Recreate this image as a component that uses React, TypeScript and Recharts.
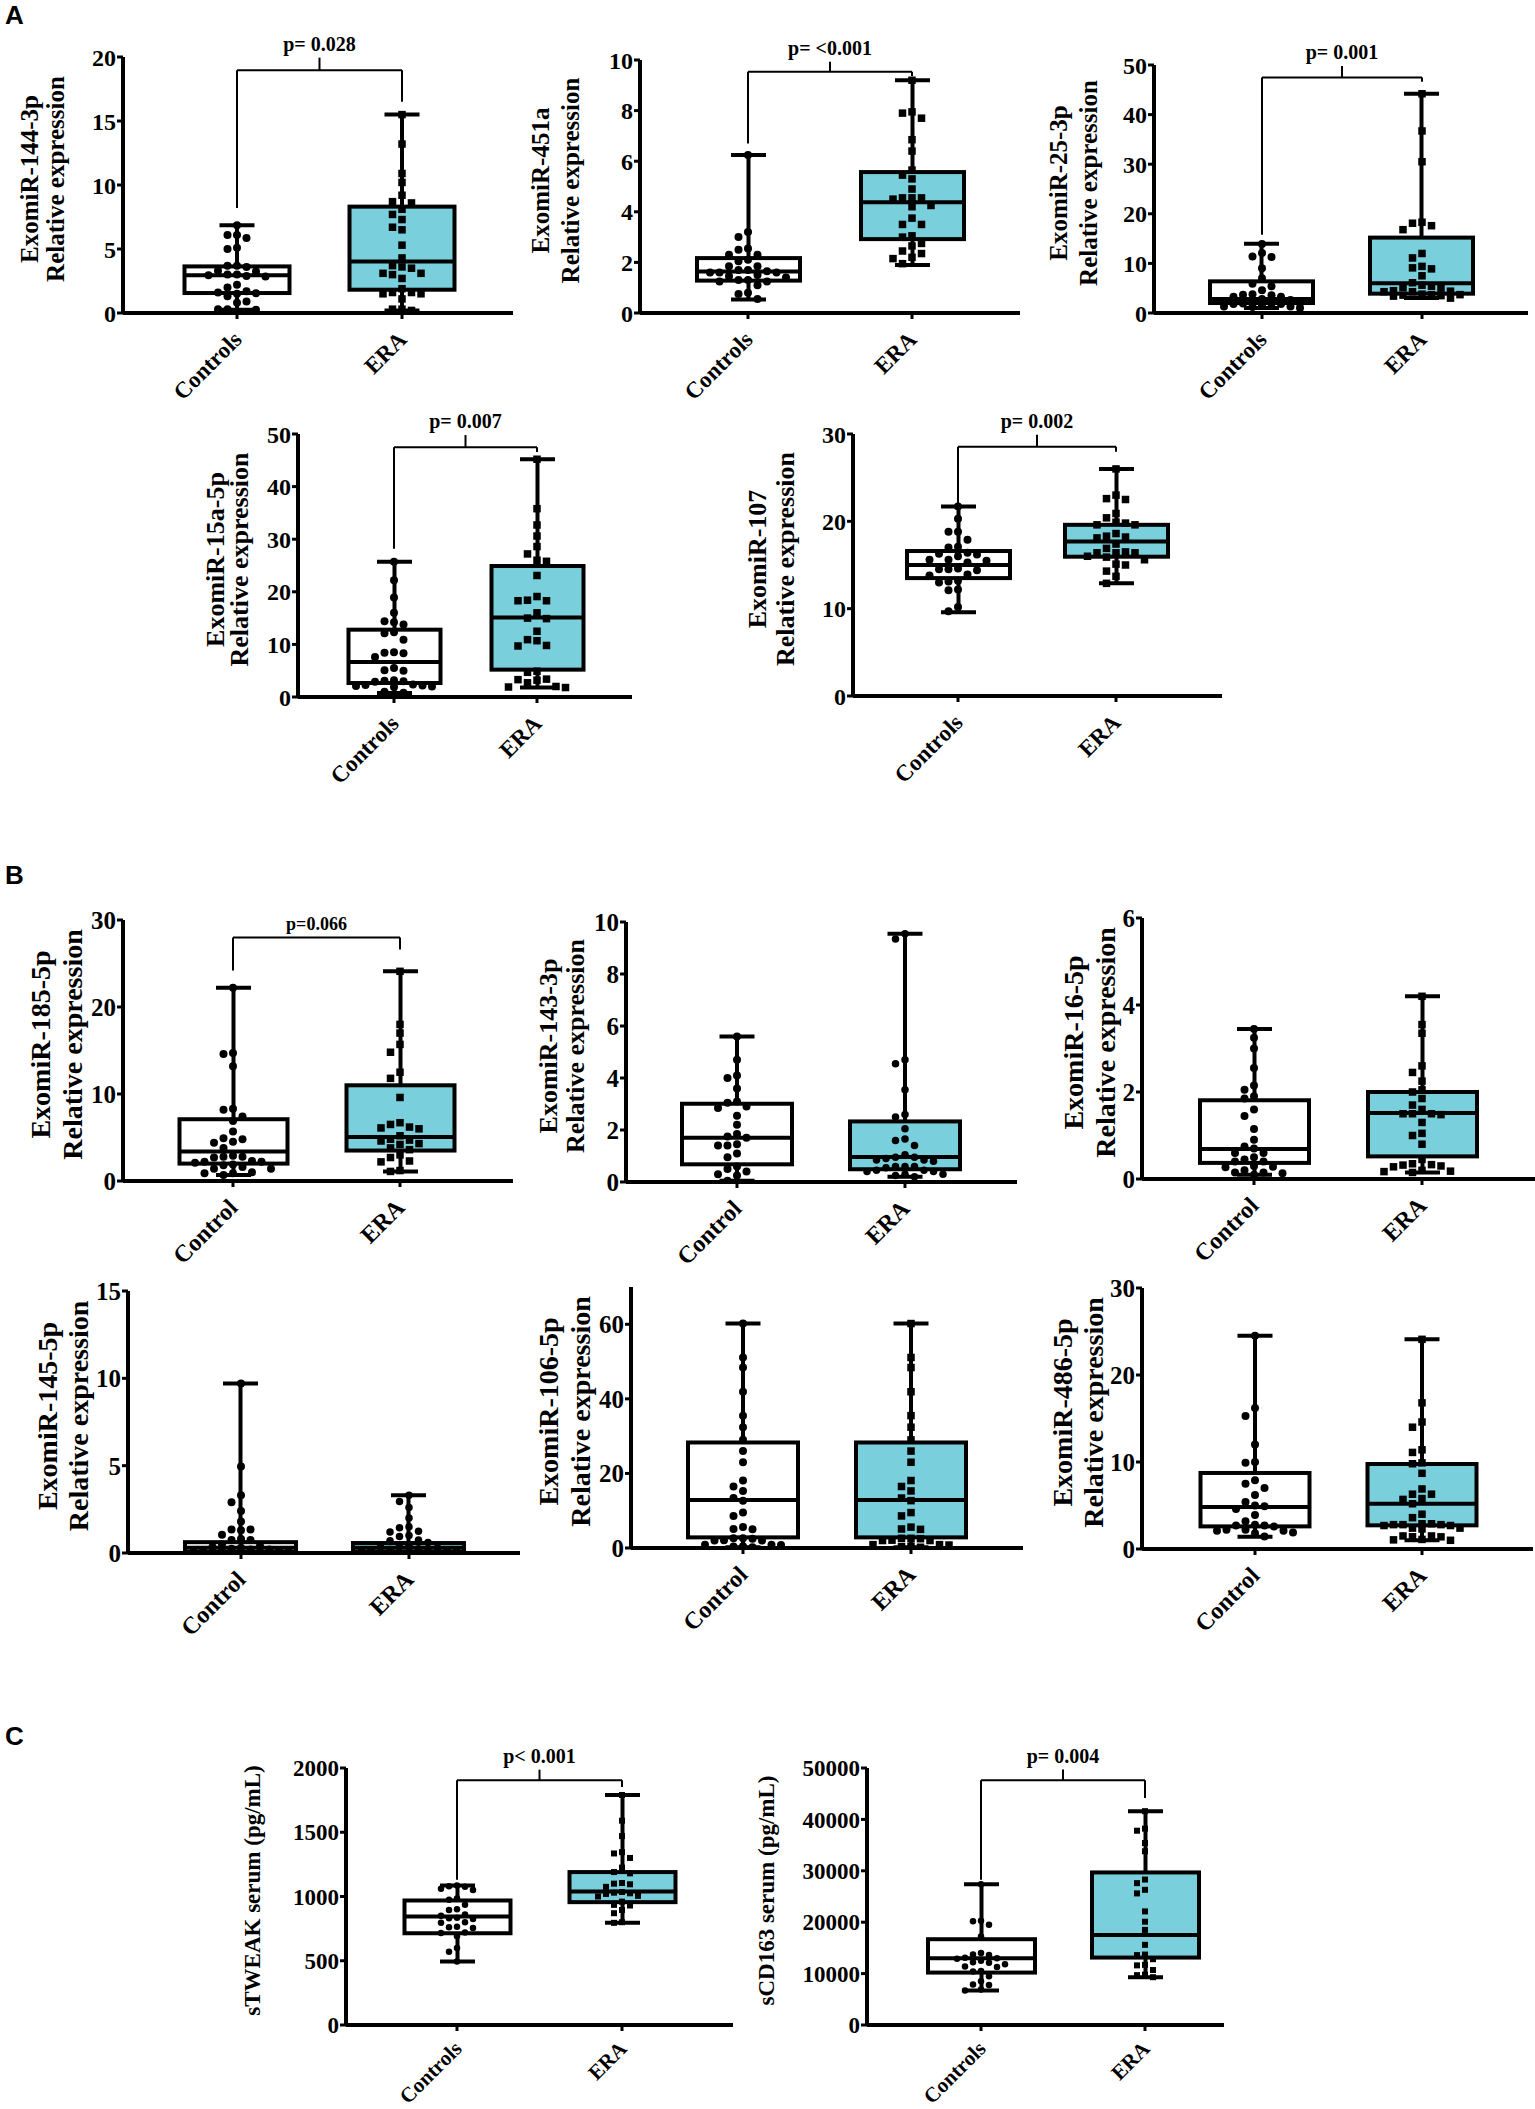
import React from 'react';
import { ComposedChart, Bar, Scatter, XAxis, YAxis, ReferenceLine } from 'recharts';

const SERIF = '"Liberation Serif", "Times New Roman", Times, serif';
const SANS = '"Liberation Sans", Arial, sans-serif';
const TEAL = '#79cfdb';

const groupsA = ['Controls', 'ERA'];
const groupsB = ['Control', 'ERA'];

// box stats per group: [min, q1, median, q3, max]
// brackets: [left leg bottom, right leg bottom, bar level, centre tick top]

// ---- A: ExomiR-144-3p
const mir144Controls = [6.85, 6.1, 6.1, 5.85, 5.1, 5.0, 3.7, 3.7, 3.6, 3.3, 3.25, 3.0, 3.0, 2.95, 2.9, 2.85, 2.2, 2.0, 1.7, 1.6, 1.55, 1.5, 1.3, 0.9, 0.8, 0.3, 0.3, 0.25];
const mir144Era = [15.5, 13.2, 10.9, 10.2, 9.2, 8.7, 8.6, 8.1, 7.7, 7.3, 6.7, 6.5, 5.3, 4.3, 3.7, 3.6, 3.5, 3.1, 3.1, 3.0, 2.7, 1.9, 1.6, 1.6, 1.5, 1.5, 1.1, 0.3, 0.3, 0.2];
const mir144Boxes = [[0.25, 1.56, 2.94, 3.64, 6.85], [0.2, 1.82, 4.03, 8.31, 15.5]];
const mir144Ticks = [0, 5, 10, 15, 20];
const mir144Bracket = [8.2, 16.5, 18.96, 19.95];

// ---- A: ExomiR-451a
const mir451Controls = [6.25, 3.2, 3.0, 2.55, 2.5, 2.3, 2.3, 2.1, 2.05, 1.85, 1.85, 1.7, 1.7, 1.65, 1.6, 1.6, 1.6, 1.5, 1.45, 1.4, 1.3, 1.3, 1.25, 1.25, 1.1, 0.8, 0.75, 0.55];
const mir451Era = [9.2, 7.95, 7.9, 7.7, 6.85, 6.4, 5.65, 5.45, 5.3, 4.9, 4.55, 4.55, 4.55, 4.5, 4.25, 4.2, 3.75, 3.5, 3.5, 3.05, 3.0, 2.75, 2.65, 2.45, 2.35, 2.2, 2.15, 1.95];
const mir451Boxes = [[0.53, 1.28, 1.64, 2.17, 6.25], [1.9, 2.92, 4.38, 5.57, 9.2]];
const mir451Ticks = [0, 2, 4, 6, 8, 10];
const mir451Bracket = [6.7, 9.37, 9.54, 9.93];

// ---- A: ExomiR-25-3p
const mir25Controls = [13.9, 12.1, 11.4, 11.3, 9.0, 7.0, 5.9, 5.4, 4.6, 3.8, 3.7, 3.6, 3.3, 3.3, 2.8, 2.6, 2.2, 2.0, 2.0, 1.9, 1.9, 1.8, 1.8, 1.4, 1.3, 1.3, 1.2, 1.0];
const mir25Era = [44.2, 36.7, 30.5, 18.3, 18.1, 17.6, 16.8, 12.0, 11.1, 9.4, 9.1, 8.9, 7.5, 6.1, 5.6, 5.4, 5.2, 5.0, 4.5, 4.4, 4.3, 4.3, 3.8, 3.7, 3.7, 3.6, 3.5, 3.4, 3.0];
const mir25Boxes = [[1.0, 2.01, 2.8, 6.38, 13.96], [3.0, 3.9, 6.0, 15.2, 44.2]];
const mir25Ticks = [0, 10, 20, 30, 40, 50];
const mir25Bracket = [15.8, 46.6, 47.5, 49.8];

// ---- A: ExomiR-15a-5p
const mir15Controls = [25.7, 22.2, 18.9, 16.0, 14.4, 14.2, 13.8, 12.3, 12.1, 10.9, 8.5, 8.4, 8.3, 7.6, 5.5, 5.1, 5.0, 3.2, 3.1, 3.0, 2.9, 2.4, 2.3, 2.2, 2.1, 2.0, 1.9, 1.0, 0.8];
const mir15Era = [45.2, 35.8, 32.7, 30.6, 28.6, 27.2, 26.0, 25.8, 23.1, 19.1, 18.4, 18.3, 18.3, 16.0, 15.0, 14.9, 12.5, 10.9, 10.7, 9.8, 9.7, 4.9, 4.7, 3.4, 3.3, 3.2, 2.7, 2.0, 1.9, 1.8];
const mir15Boxes = [[0.76, 2.66, 6.66, 12.8, 25.7], [1.8, 5.2, 15.1, 24.9, 45.2]];
const mir15Ticks = [0, 10, 20, 30, 40, 50];
const mir15Bracket = [28.2, 46.6, 47.5, 49.8];

// ---- A: ExomiR-107
const mir107Controls = [21.7, 20.3, 18.8, 18.8, 17.9, 17.1, 17.0, 16.4, 16.3, 16.2, 16.0, 15.6, 15.6, 15.5, 15.3, 14.6, 14.5, 14.5, 14.4, 13.9, 13.8, 13.2, 13.1, 13.0, 12.2, 12.1, 10.2, 9.7];
const mir107Era = [26.0, 23.0, 22.6, 22.5, 20.9, 20.4, 19.9, 19.8, 19.6, 19.6, 18.6, 18.3, 18.2, 18.1, 17.4, 16.9, 16.5, 16.4, 16.4, 16.4, 16.0, 15.9, 15.6, 15.1, 15.0, 14.3, 13.7, 12.9];
const mir107Boxes = [[9.6, 13.5, 15.0, 16.6, 21.7], [12.9, 15.95, 17.7, 19.6, 26.0]];
const mir107Ticks = [0, 10, 20, 30];
const mir107Bracket = [21.9, 27.98, 28.55, 29.9];

// ---- B: ExomiR-185-5p
const mir185Control = [22.2, 14.7, 14.6, 13.2, 8.3, 8.2, 7.4, 6.9, 5.7, 4.9, 4.8, 4.5, 4.4, 3.8, 2.9, 2.8, 2.8, 2.7, 2.3, 2.2, 2.2, 2.1, 1.9, 1.8, 1.6, 1.4, 1.4, 1.0, 0.9, 0.9, 0.7];
const mir185Era = [24.1, 18.0, 17.0, 15.7, 14.8, 12.5, 11.8, 9.6, 6.7, 6.5, 6.2, 6.1, 6.0, 5.2, 4.8, 4.7, 4.6, 4.3, 4.2, 3.8, 3.6, 3.0, 2.7, 2.3, 2.2, 1.2, 1.1];
const mir185Boxes = [[0.7, 2.0, 3.4, 7.1, 22.2], [1.1, 3.5, 5.06, 11.0, 24.1]];
const mir185Ticks = [0, 10, 20, 30];
const mir185Bracket = [24.2, 26.6, 28.0];

// ---- B: ExomiR-143-3p
const mir143Control = [5.6, 4.7, 4.1, 4.0, 3.6, 3.1, 3.05, 2.9, 2.85, 2.55, 2.2, 1.85, 1.75, 1.7, 1.45, 1.4, 1.4, 1.1, 0.95, 0.6, 0.5, 0.4, 0.3, 0.25, 0.05];
const mir143Era = [9.55, 9.35, 4.7, 4.55, 3.55, 2.6, 2.5, 2.05, 1.65, 1.6, 1.4, 1.05, 0.95, 0.95, 0.9, 0.85, 0.85, 0.8, 0.6, 0.6, 0.6, 0.55, 0.45, 0.45, 0.4, 0.4, 0.3, 0.3, 0.25, 0.2];
const mir143Boxes = [[0.05, 0.68, 1.7, 3.01, 5.6], [0.2, 0.49, 0.96, 2.33, 9.55]];
const mir143Ticks = [0, 2, 4, 6, 8, 10];

// ---- B: ExomiR-16-5p
const mir16Control = [3.45, 3.25, 3.0, 2.55, 2.15, 2.05, 1.9, 1.85, 1.6, 1.45, 1.15, 0.9, 0.75, 0.7, 0.6, 0.6, 0.5, 0.45, 0.4, 0.4, 0.3, 0.28, 0.27, 0.2, 0.15, 0.15, 0.13, 0.1];
const mir16Era = [4.2, 3.55, 3.35, 2.6, 2.45, 2.25, 2.05, 2.0, 1.85, 1.7, 1.6, 1.5, 1.5, 1.5, 1.48, 1.3, 1.05, 1.0, 0.8, 0.45, 0.35, 0.33, 0.32, 0.3, 0.28, 0.2, 0.18, 0.17, 0.15];
const mir16Boxes = [[0.1, 0.37, 0.69, 1.81, 3.45], [0.15, 0.52, 1.52, 2.0, 4.2]];
const mir16Ticks = [0, 2, 4, 6];

// ---- B: ExomiR-145-5p
const mir145Control = [9.7, 4.95, 3.3, 2.9, 2.4, 1.8, 1.35, 1.35, 1.3, 1.05, 0.8, 0.75, 0.75, 0.5, 0.4, 0.35, 0.3, 0.25, 0.2, 0.2, 0.15, 0.12, 0.1, 0.1, 0.08, 0.06, 0.05, 0.04, 0.03];
const mir145Era = [3.3, 2.95, 2.6, 2.0, 1.5, 1.45, 1.25, 1.2, 1.0, 0.95, 0.75, 0.7, 0.6, 0.45, 0.4, 0.35, 0.3, 0.25, 0.2, 0.18, 0.15, 0.12, 0.1, 0.08, 0.06, 0.05, 0.04];
const mir145Boxes = [[0.03, 0.06, 0.3, 0.62, 9.7], [0.04, 0.06, 0.3, 0.57, 3.3]];
const mir145Ticks = [0, 5, 10, 15];

// ---- B: ExomiR-106-5p
const mir106Control = [60.2, 51.1, 48.4, 41.9, 35.5, 32.4, 29.0, 26.0, 23.0, 18.1, 16.5, 15.3, 13.4, 12.7, 9.5, 8.6, 5.6, 5.1, 5.0, 2.6, 2.6, 2.5, 2.1, 2.0, 2.0, 0.9, 0.9, 0.8, 0.5, 0.4, 0.2];
const mir106Era = [60.2, 51.1, 48.4, 41.9, 35.5, 32.4, 29.0, 26.0, 23.0, 18.1, 16.5, 15.3, 13.4, 12.7, 9.5, 8.6, 5.6, 5.1, 5.0, 2.6, 2.6, 2.5, 2.1, 2.0, 2.0, 0.9, 0.9, 0.8, 0.5, 0.4, 0.2];
const mir106Boxes = [[0.2, 2.85, 12.9, 28.3, 60.2], [0.2, 2.85, 12.9, 28.3, 60.2]];
const mir106Ticks = [0, 20, 40, 60];

// ---- B: ExomiR-486-5p
const mir486Control = [24.5, 16.2, 15.3, 12.0, 10.0, 9.9, 7.9, 7.5, 7.0, 6.2, 5.4, 5.0, 4.9, 4.6, 3.9, 3.2, 2.8, 2.7, 2.7, 2.6, 2.2, 2.2, 2.1, 2.1, 1.9, 1.8, 1.45];
const mir486Era = [24.1, 16.8, 14.6, 14.0, 11.4, 11.1, 9.9, 9.8, 8.7, 6.9, 6.3, 6.3, 5.8, 5.7, 5.2, 4.0, 3.6, 2.9, 2.9, 2.8, 2.8, 2.8, 2.7, 2.7, 2.4, 2.4, 2.3, 1.5, 1.5, 1.4, 1.4, 1.1, 1.05, 1.0];
const mir486Boxes = [[1.4, 2.6, 4.83, 8.74, 24.5], [1.0, 2.72, 5.2, 9.77, 24.1]];
const mir486Ticks = [0, 10, 20, 30];

// ---- C: sTWEAK
const tweakControls = [1085, 1080, 1075, 1060, 1050, 985, 975, 935, 900, 895, 860, 850, 835, 830, 825, 800, 795, 765, 760, 755, 720, 715, 690, 600, 570, 495];
const tweakEra = [1790, 1590, 1470, 1345, 1335, 1300, 1225, 1190, 1180, 1105, 1100, 1095, 1075, 1035, 1030, 1025, 1020, 1005, 1000, 960, 935, 930, 895, 870, 800, 795];
const tweakBoxes = [[495, 714, 844, 969, 1085], [795, 956, 1039, 1190, 1790]];
const tweakTicks = [0, 500, 1000, 1500, 2000];
const tweakBracket = [1130, 1852, 1904, 1987];

// ---- C: sCD163
const cd163Controls = [27400, 20300, 20200, 19500, 17200, 14000, 13700, 13600, 13100, 13000, 12900, 12500, 12200, 12100, 11800, 11400, 11300, 10500, 10400, 9500, 8500, 7900, 7800, 6900, 6700];
const cd163Era = [41600, 38200, 37800, 35400, 33800, 28300, 27600, 26300, 25600, 22100, 20100, 18500, 15600, 13700, 13600, 12800, 11700, 11600, 10700, 9800, 9700, 9300];
const cd163Boxes = [[6700, 10200, 12990, 16690, 27400], [9300, 13120, 17530, 29680, 41600]];
const cd163Ticks = [0, 10000, 20000, 30000, 40000, 50000];
const cd163Bracket = [28250, 44160, 47600, 49700];

type Sizes = { tick: number; title: number; cat: number; catDy: number; p: number; dot: number };
const fsA: Sizes = { tick: 24, title: 25, cat: 23, catDy: 28, p: 20, dot: 8 };
const fsB: Sizes = { tick: 25, title: 28, cat: 24, catDy: 28, p: 18, dot: 8 };
const fsC: Sizes = { tick: 23, title: 23, cat: 21, catDy: 25, p: 20, dot: 6.5 };

type Panel = {
  id: string;
  yTitle: string[];
  groups: string[];
  controls: number[];
  era: number[];
  boxes: number[][];
  ticks: number[];
  yMax: number;
  bracket?: number[];
  pText?: string;
  eraShape: 'circle' | 'square';
  axisX: number;
  xEnd: number;
  top: number;
  base: number;
  ctrlX: number;
  eraX: number;
  boxW: number;
  titleDx: number[];
  fs: Sizes;
};

const panels: Panel[] = [
  { id: 'a1', yTitle: ['ExomiR-144-3p', 'Relative expression'], groups: groupsA, controls: mir144Controls, era: mir144Era, boxes: mir144Boxes, ticks: mir144Ticks, yMax: 20, bracket: mir144Bracket, pText: 'p= 0.028', eraShape: 'square', axisX: 123, xEnd: 513, top: 57, base: 313, ctrlX: 237, eraX: 402, boxW: 105, titleDx: [-94, -68], fs: fsA },
  { id: 'a2', yTitle: ['ExomiR-451a', 'Relative expression'], groups: groupsA, controls: mir451Controls, era: mir451Era, boxes: mir451Boxes, ticks: mir451Ticks, yMax: 10, bracket: mir451Bracket, pText: 'p= <0.001', eraShape: 'square', axisX: 640, xEnd: 1020, top: 60, base: 313, ctrlX: 748, eraX: 912, boxW: 103, titleDx: [-100, -70], fs: fsA },
  { id: 'a3', yTitle: ['ExomiR-25-3p', 'Relative expression'], groups: groupsA, controls: mir25Controls, era: mir25Era, boxes: mir25Boxes, ticks: mir25Ticks, yMax: 50, bracket: mir25Bracket, pText: 'p= 0.001', eraShape: 'square', axisX: 1154, xEnd: 1528, top: 65, base: 313, ctrlX: 1262, eraX: 1422, boxW: 103, titleDx: [-96, -66], fs: fsA },
  { id: 'a4', yTitle: ['ExomiR-15a-5p', 'Relative expression'], groups: groupsA, controls: mir15Controls, era: mir15Era, boxes: mir15Boxes, ticks: mir15Ticks, yMax: 50, bracket: mir15Bracket, pText: 'p= 0.007', eraShape: 'square', axisX: 298, xEnd: 632, top: 434, base: 697, ctrlX: 394, eraX: 537, boxW: 92, titleDx: [-83, -59], fs: { ...fsA, title: 26 } },
  { id: 'a5', yTitle: ['ExomiR-107', 'Relative expression'], groups: groupsA, controls: mir107Controls, era: mir107Era, boxes: mir107Boxes, ticks: mir107Ticks, yMax: 30, bracket: mir107Bracket, pText: 'p= 0.002', eraShape: 'square', axisX: 853, xEnd: 1222, top: 434, base: 696, ctrlX: 958, eraX: 1116, boxW: 103, titleDx: [-96, -68], fs: { ...fsA, title: 26 } },
  { id: 'b1', yTitle: ['ExomiR-185-5p', 'Relative expression'], groups: groupsB, controls: mir185Control, era: mir185Era, boxes: mir185Boxes, ticks: mir185Ticks, yMax: 30, bracket: mir185Bracket, pText: 'p=0.066', eraShape: 'square', axisX: 123, xEnd: 513, top: 920, base: 1181, ctrlX: 233, eraX: 400, boxW: 108, titleDx: [-83, -51], fs: fsB },
  { id: 'b2', yTitle: ['ExomiR-143-3p', 'Relative expression'], groups: groupsB, controls: mir143Control, era: mir143Era, boxes: mir143Boxes, ticks: mir143Ticks, yMax: 10, eraShape: 'circle', axisX: 626, xEnd: 1017, top: 922, base: 1182, ctrlX: 737, eraX: 905, boxW: 110, titleDx: [-78, -51], fs: { ...fsB, title: 26 } },
  { id: 'b3', yTitle: ['ExomiR-16-5p', 'Relative expression'], groups: groupsB, controls: mir16Control, era: mir16Era, boxes: mir16Boxes, ticks: mir16Ticks, yMax: 6, eraShape: 'square', axisX: 1142, xEnd: 1535, top: 918, base: 1179, ctrlX: 1254, eraX: 1422, boxW: 109, titleDx: [-69, -37], fs: fsB },
  { id: 'b4', yTitle: ['ExomiR-145-5p', 'Relative expression'], groups: groupsB, controls: mir145Control, era: mir145Era, boxes: mir145Boxes, ticks: mir145Ticks, yMax: 15, eraShape: 'circle', axisX: 128, xEnd: 520, top: 1291, base: 1553, ctrlX: 241, eraX: 409, boxW: 111, titleDx: [-81, -50], fs: fsB },
  { id: 'b5', yTitle: ['ExomiR-106-5p', 'Relative expression'], groups: groupsB, controls: mir106Control, era: mir106Era, boxes: mir106Boxes, ticks: mir106Ticks, yMax: 70, eraShape: 'square', axisX: 631, xEnd: 1023, top: 1287, base: 1548, ctrlX: 743, eraX: 911, boxW: 110, titleDx: [-83, -51], fs: fsB },
  { id: 'b6', yTitle: ['ExomiR-486-5p', 'Relative expression'], groups: groupsB, controls: mir486Control, era: mir486Era, boxes: mir486Boxes, ticks: mir486Ticks, yMax: 30, eraShape: 'square', axisX: 1142, xEnd: 1533, top: 1288, base: 1549, ctrlX: 1255, eraX: 1422, boxW: 109, titleDx: [-80, -49], fs: fsB },
  { id: 'c1', yTitle: ['sTWEAK serum (pg/mL)'], groups: groupsA, controls: tweakControls, era: tweakEra, boxes: tweakBoxes, ticks: tweakTicks, yMax: 2000, bracket: tweakBracket, pText: 'p< 0.001', eraShape: 'square', axisX: 346, xEnd: 733, top: 1768, base: 2025, ctrlX: 457, eraX: 622, boxW: 106, titleDx: [-94], fs: fsC },
  { id: 'c2', yTitle: ['sCD163 serum (pg/mL)'], groups: groupsA, controls: cd163Controls, era: cd163Era, boxes: cd163Boxes, ticks: cd163Ticks, yMax: 50000, bracket: cd163Bracket, pText: 'p= 0.004', eraShape: 'square', axisX: 867, xEnd: 1224, top: 1768, base: 2025, ctrlX: 981, eraX: 1145, boxW: 107, titleDx: [-101], fs: fsC },
];

const YW = 140;
const MT = 70;
const MR = 12;
const XH = 130;
const CAP = 35;

// spread points sideways so they don't overlap (pixel-space beeswarm), kept inside the box width
function swarm(values: number[], pxPerVal: number, step: number, minDist: number, maxOff: number) {
  const order = values.map((_, i) => i).sort((a, b) => values[b] - values[a]);
  const placed: number[][] = [];
  const out = values.map(() => 0);
  const maxK = Math.floor(maxOff / step) * 2;
  for (const i of order) {
    const y = values[i] * pxPerVal;
    let best = 0;
    let bestGap = -1;
    for (let k = 0; k <= maxK; k++) {
      const s = k === 0 ? 0 : (k % 2 === 1 ? -1 : 1) * Math.ceil(k / 2);
      const xo = s * step;
      const gap = placed.reduce((m, [px, py]) => Math.min(m, Math.hypot(px - xo, py - y)), Infinity);
      if (gap >= minDist) {
        best = xo;
        bestGap = gap;
        break;
      }
      if (gap > bestGap) {
        bestGap = gap;
        best = xo;
      }
    }
    out[i] = best;
    placed.push([best, y]);
  }
  return out;
}

const boxShape = (props: any) => {
  const { x, y, width, height, payload } = props;
  const [mn, q1, md, q3, mx] = payload.stats;
  const top = Math.min(y, y + height);
  const h = Math.abs(height);
  const py = (v: number) => top + (h * (mx - v)) / (mx - mn);
  const cx = x + width / 2;
  const ln = { stroke: '#000', strokeWidth: 4 };
  return (
    <g>
      <line x1={cx} x2={cx} y1={py(mx)} y2={py(mn)} {...ln} />
      <line x1={cx - CAP / 2} x2={cx + CAP / 2} y1={py(mx)} y2={py(mx)} {...ln} />
      <line x1={cx - CAP / 2} x2={cx + CAP / 2} y1={py(mn)} y2={py(mn)} {...ln} />
      <rect x={x} y={py(q3)} width={width} height={py(q1) - py(q3)} fill={payload.fill} {...ln} />
      <line x1={x} x2={x + width} y1={py(md)} y2={py(md)} {...ln} />
    </g>
  );
};

const dotShape = (kind: 'circle' | 'square', size: number) => (props: any) => {
  const { cx, cy, payload } = props;
  const x = cx + payload.dx;
  return kind === 'circle' ? (
    <circle cx={x} cy={cy} r={size / 2} fill="#000" />
  ) : (
    <rect x={x - size / 2} y={cy - size / 2} width={size} height={size} fill="#000" />
  );
};

function BoxPanel({ p }: { p: Panel }) {
  const plotW = p.xEnd - p.axisX;
  const plotH = p.base - p.top;
  const unit = p.eraX - p.ctrlX;
  const xDomain = [1 - (p.ctrlX - p.axisX) / unit, 2 + (p.xEnd - p.eraX) / unit];
  const pxPerVal = plotH / p.yMax;
  const step = p.fs.dot + 1.5;
  const rows = p.boxes.map((b, i) => ({ x: i + 1, range: [b[0], b[4]], stats: b, fill: i === 0 ? '#fff' : TEAL }));
  const toPts = (vals: number[], gx: number) => {
    const offs = swarm(vals, pxPerVal, step, step - 1, p.boxW / 2 - 8);
    return vals.map((v, i) => ({ x: gx, y: v, dx: offs[i] }));
  };
  const ctrlPts = toPts(p.controls, 1);
  const eraPts = toPts(p.era, 2);
  const midY = MT + plotH / 2 - 6;
  const baseLocal = MT + plotH;
  const txt = { fontFamily: SERIF, fontWeight: 700, fill: '#000' };

  const brackets: React.ReactNode[] = [];
  if (p.bracket) {
    const b = p.bracket;
    const pLabel = { value: p.pText, position: 'top' as const, offset: 7, ...txt, fontSize: p.fs.p };
    const seg = { stroke: '#000', strokeWidth: 2, ifOverflow: 'visible' as const };
    brackets.push(<ReferenceLine key="l" segment={[{ x: 1, y: b[0] }, { x: 1, y: b[2] }]} {...seg} />);
    brackets.push(<ReferenceLine key="r" segment={[{ x: 2, y: b[1] }, { x: 2, y: b[2] }]} {...seg} />);
    brackets.push(
      <ReferenceLine key="h" segment={[{ x: 1, y: b[2] }, { x: 2, y: b[2] }]} {...seg} label={b.length < 4 ? pLabel : undefined} />,
    );
    if (b.length > 3) {
      brackets.push(<ReferenceLine key="t" segment={[{ x: 1.5, y: b[2] }, { x: 1.5, y: b[3] }]} {...seg} label={pLabel} />);
    }
  }

  return (
    <div style={{ position: 'absolute', left: p.axisX - YW, top: p.top - MT }}>
      <ComposedChart
        width={YW + plotW + MR}
        height={MT + plotH + XH}
        data={rows}
        margin={{ top: MT, right: MR, bottom: 0, left: 0 }}
      >
        <XAxis
          type="number"
          dataKey="x"
          domain={xDomain}
          allowDataOverflow
          ticks={[1, 2]}
          height={XH}
          axisLine={{ stroke: '#000', strokeWidth: 4 }}
          tickLine={{ stroke: '#000', strokeWidth: 3 }}
          tickSize={6}
          tick={(t: any) => {
            const px = t.x + 6;
            const py = baseLocal + p.fs.catDy;
            return (
              <text x={px} y={py} textAnchor="end" transform={`rotate(-45 ${px} ${py})`} {...txt} fontSize={p.fs.cat}>
                {p.groups[Math.round(t.payload.value) - 1]}
              </text>
            );
          }}
        />
        <YAxis
          type="number"
          dataKey="y"
          domain={[0, p.yMax]}
          allowDataOverflow
          ticks={p.ticks}
          interval={0}
          width={YW}
          axisLine={{ stroke: '#000', strokeWidth: 4 }}
          tickLine={{ stroke: '#000', strokeWidth: 3 }}
          tickSize={6}
          tickMargin={1}
          tick={{ ...txt, fontSize: p.fs.tick }}
          label={{
            content: () => (
              <g>
                {p.yTitle.map((t, i) => {
                  const lx = YW + p.titleDx[i];
                  return (
                    <text
                      key={t}
                      x={lx}
                      y={midY}
                      transform={`rotate(-90 ${lx} ${midY})`}
                      textAnchor="middle"
                      dominantBaseline="central"
                      {...txt}
                      fontSize={p.fs.title}
                    >
                      {t}
                    </text>
                  );
                })}
              </g>
            ),
          }}
        />
        <Bar dataKey="range" barSize={p.boxW} shape={boxShape} isAnimationActive={false} />
        <Scatter data={ctrlPts} shape={dotShape('circle', p.fs.dot)} isAnimationActive={false} />
        <Scatter data={eraPts} shape={dotShape(p.eraShape, p.fs.dot - 0.5)} isAnimationActive={false} />
        {brackets}
      </ComposedChart>
    </div>
  );
}

const letter = (top: number, text: string) => (
  <div
    style={{
      position: 'absolute',
      left: 5,
      top,
      fontFamily: SANS,
      fontWeight: 700,
      fontSize: 26,
      lineHeight: 1,
      color: '#000',
    }}
  >
    {text}
  </div>
);

export default function App() {
  return (
    <div
      style={{
        position: 'absolute',
        left: 0,
        top: 0,
        width: 1535,
        height: 2109,
        overflow: 'hidden',
        background: '#fff',
      }}
    >
      <style>{'.recharts-surface{overflow:visible}'}</style>
      {letter(2, 'A')}
      {letter(862, 'B')}
      {letter(1723, 'C')}
      {panels.map((p) => (
        <BoxPanel key={p.id} p={p} />
      ))}
    </div>
  );
}
